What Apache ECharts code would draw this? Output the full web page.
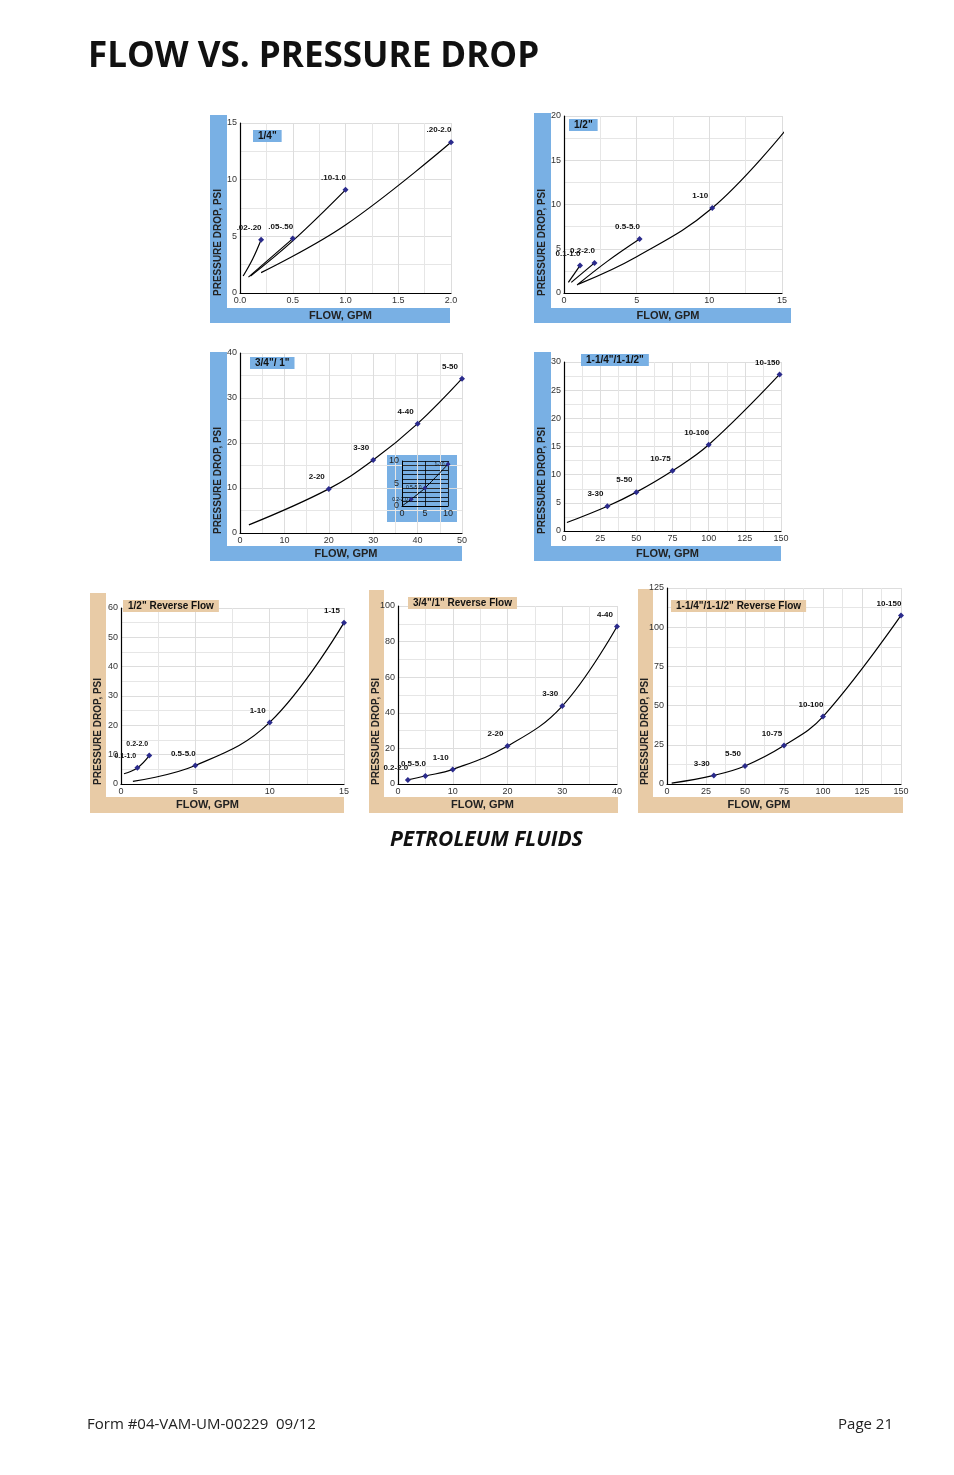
<!DOCTYPE html>
<html><head><meta charset="utf-8">
<script src="https://cdn.jsdelivr.net/npm/echarts@6/dist/echarts.min.js"></script>
<style>html,body{margin:0;padding:0;background:#fff}#c{width:954px;height:1475px}</style>
</head><body><div id="c"></div>
<script>
// ---- data: [flow, psi, label] ----
const c1_a = [[0.03,1.5,''],[0.12,3.0,''],[0.2,4.7,'.02-.20']];
const c1_b = [[0.08,1.4,''],[0.5,4.8,'.05-.50']];
const c1_c = [[0.1,1.5,''],[0.5,4.6,''],[1.0,9.1,'.10-1.0']];
const c1_d = [[0.2,1.8,''],[1.0,6.0,''],[2.0,13.3,'.20-2.0']];
const c2_a = [[0.3,1.2,''],[1.1,3.1,'0.1-1.0']];
const c2_b = [[0.5,1.2,''],[2.1,3.4,'0.2-2.0']];
const c2_c = [[0.9,0.9,''],[3.0,3.6,''],[5.2,6.1,'0.5-5.0']];
const c2_d = [[1.0,1.0,''],[5.0,4.1,''],[10.2,9.6,'1-10'],[15.2,18.3,'1-15']];
const c3_a = [[2,1.8,''],[20,9.8,'2-20'],[30,16.2,'3-30'],[40,24.3,'4-40'],[50,34.3,'5-50']];
const c3_inset = [[0,0,''],[2,1.5,'0.2-2.0'],[5,4,'0.5-5.0'],[10,9.3,'1-10']];
const c4_a = [[2,1.5,''],[30,4.4,'3-30'],[50,6.9,'5-50'],[75,10.7,'10-75'],[100,15.3,'10-100'],[149,27.8,'10-150']];
const c5_a = [[0.2,3.5,''],[1.1,5.5,'0.1-1.0'],[1.9,9.7,'0.2-2.0']];
const c5_b = [[0.8,0.9,''],[5,6.3,'0.5-5.0'],[10,21,'1-10'],[15,55,'1-15']];
const c6_a = [[1.8,2.3,'0.2-2.0'],[5,4.5,'0.5-5.0'],[10,8.2,'1-10'],[20,21.3,'2-20'],[30,43.8,'3-30'],[40,88.5,'4-40']];
const c7_a = [[3,0.5,''],[30,5.5,'3-30'],[50,11.5,'5-50'],[75,24.5,'10-75'],[100,43,'10-100'],[150,107.5,'10-150']];
const titles = ['1/4"','1/2"','3/4"/ 1"','1-1/4"/1-1/2"','1/2" Reverse Flow','3/4"/1" Reverse Flow','1-1/4"/1-1/2" Reverse Flow'];

const BLUE='#79b0e4', TAN='#e8cba6';
const panels = [
 {g:[240,123,211,170],xmax:2,xi:0.5,ymax:15,yi:5,dec:1,band:BLUE,lb:[210,115,17,208],bb:[210,308,240,15],tt:[253,130],series:[c1_a,c1_b,c1_c,c1_d]},
 {g:[564,116,218,177],xmax:15,xi:5,ymax:20,yi:5,band:BLUE,lb:[534,113,17,210],bb:[534,308,257,15],tt:[569,119],series:[c2_a,c2_b,c2_c,c2_d]},
 {g:[240,353,222,180],xmax:50,xi:10,ymax:40,yi:10,band:BLUE,lb:[210,352,17,209],bb:[210,546,252,15],tt:[250,357],series:[c3_a]},
 {g:[564,362,217,169],xmax:150,xi:25,ymax:30,yi:5,band:BLUE,lb:[534,352,17,209],bb:[534,546,247,15],tt:[581,354],series:[c4_a]},
 {g:[121,608,223,176],xmax:15,xi:5,ymax:60,yi:10,band:TAN,lb:[90,593,16,220],bb:[90,797,254,16],tt:[123,600],series:[c5_a,c5_b]},
 {g:[398,606,219,178],xmax:40,xi:10,ymax:100,yi:20,band:TAN,lb:[369,590,15,223],bb:[369,797,249,16],tt:[408,597],series:[c6_a]},
 {g:[667,588,234,196],xmax:150,xi:25,ymax:125,yi:25,band:TAN,lb:[638,589,15,224],bb:[638,797,265,16],tt:[671,600],series:[c7_a]}
];
const F='"Liberation Sans", Arial, sans-serif';
const opt={animation:false,grid:[],xAxis:[],yAxis:[],series:[],title:[],graphic:[]};
function mkData(arr,small){
  return arr.map(p=>({value:[p[0],p[1]],symbol:p[2]?'diamond':'none',symbolSize:6,
    label:{show:!!p[2],formatter:p[2],position:'top',distance:5,offset:[-12,0],fontSize:small?7:8,fontWeight:'bold',color:'#111',fontFamily:F}}));
}
panels.forEach((P,i)=>{
  opt.graphic.push({type:'rect',shape:{x:P.lb[0],y:P.lb[1],width:P.lb[2],height:P.lb[3]},style:{fill:P.band},z:-1});
  opt.graphic.push({type:'rect',shape:{x:P.bb[0],y:P.bb[1],width:P.bb[2],height:P.bb[3]},style:{fill:P.band},z:-1});
  opt.graphic.push({type:'text',x:P.lb[0]+P.lb[2]/2-5,y:P.bb[1]-12,rotation:Math.PI/2,style:{text:'PRESSURE DROP, PSI',font:'bold 10px '+F,fill:'#222',textAlign:'left',textVerticalAlign:'top'},z:5});
  opt.graphic.push({type:'text',x:P.g[0]+P.g[2]/2-(i<4?5:25),y:P.bb[1]+P.bb[3]/2,style:{text:'FLOW, GPM',font:'bold 11px '+F,fill:'#222',textAlign:'center',textVerticalAlign:'middle'},z:5});
  opt.title.push({text:titles[i],left:P.tt[0],top:P.tt[1],padding:[1,5],backgroundColor:P.band,textStyle:{fontSize:10,fontWeight:'bold',color:'#111',fontFamily:F}});
  opt.grid.push({left:P.g[0],top:P.g[1],width:P.g[2],height:P.g[3],containLabel:false});
  const gi=opt.grid.length-1;
  opt.xAxis.push({type:'value',gridIndex:gi,min:0,max:P.xmax,interval:P.xi,
    axisLine:{lineStyle:{color:'#000',width:1.2}},axisTick:{show:false},
    axisLabel:{fontSize:9,color:'#333',margin:3,fontFamily:'"Liberation Sans Narrow",'+F,formatter:v=>P.dec?v.toFixed(1):String(v)},
    splitLine:{lineStyle:{color:'#ddd'}},minorTick:{show:false,splitNumber:2},minorSplitLine:{show:true,lineStyle:{color:'#e6e6e6'}}});
  opt.yAxis.push({type:'value',gridIndex:gi,min:0,max:P.ymax,interval:P.yi,
    axisLine:{show:true,lineStyle:{color:'#000',width:1.2}},axisTick:{show:false},
    axisLabel:{fontSize:9,color:'#333',margin:3,fontFamily:'"Liberation Sans Narrow",'+F},
    splitLine:{lineStyle:{color:'#ddd'}},minorTick:{show:false,splitNumber:2},minorSplitLine:{show:true,lineStyle:{color:'#e6e6e6'}}});
  P.series.forEach((s,k)=>{
    opt.series.push({type:'line',xAxisIndex:gi,yAxisIndex:gi,smooth:0.4,data:mkData(s,i===4&&k===0),
      lineStyle:{color:'#000',width:1.2},itemStyle:{color:'#2b2b8c'},z:3});
  });
});
// inset in 3/4"/1"
opt.graphic.push({type:'rect',shape:{x:387,y:455,width:70,height:67},style:{fill:BLUE},z:-1});
opt.grid.push({left:402,top:461,width:46,height:45});
const ig=opt.grid.length-1;
opt.xAxis.push({type:'value',gridIndex:ig,min:0,max:10,interval:5,axisLine:{lineStyle:{color:'#000'}},axisTick:{show:false},
  axisLabel:{fontSize:9,color:'#222',margin:3},splitLine:{lineStyle:{color:'#000',width:0.8}}});
opt.yAxis.push({type:'value',gridIndex:ig,min:0,max:10,interval:5,axisLine:{show:true,lineStyle:{color:'#000'}},axisTick:{show:false},
  axisLabel:{fontSize:9,color:'#222',margin:3},splitLine:{lineStyle:{color:'#000',width:0.8}},
  minorTick:{show:false,splitNumber:5},minorSplitLine:{show:true,lineStyle:{color:'#000',width:0.8}}});
opt.series.push({type:'line',xAxisIndex:ig,yAxisIndex:ig,smooth:0.3,lineStyle:{color:'#000',width:1},itemStyle:{color:'#2b2b8c'},
  data:c3_inset.map(p=>({value:[p[0],p[1]],symbol:p[2]?'diamond':'none',symbolSize:5,
   label:{show:!!p[2],formatter:p[2],position:'left',distance:1,fontSize:5,color:'#111'}}))});
// page text
opt.graphic.push({type:'text',left:88,top:40,style:{text:'FLOW VS. PRESSURE DROP',font:'bold 35px "Open Sans", '+F,fill:'#111'}});
opt.graphic.push({type:'text',left:390,top:830,style:{text:'PETROLEUM FLUIDS',font:'italic bold 21px "Open Sans", '+F,fill:'#111'}});
opt.graphic.push({type:'text',left:87,top:1417,style:{text:'Form #04-VAM-UM-00229  09/12',font:'15px "Open Sans", '+F,fill:'#222'}});
opt.graphic.push({type:'text',right:61,top:1417,style:{text:'Page 21',font:'15px "Open Sans", '+F,fill:'#222'}});
echarts.init(document.getElementById('c')).setOption(opt);
</script></body></html>
